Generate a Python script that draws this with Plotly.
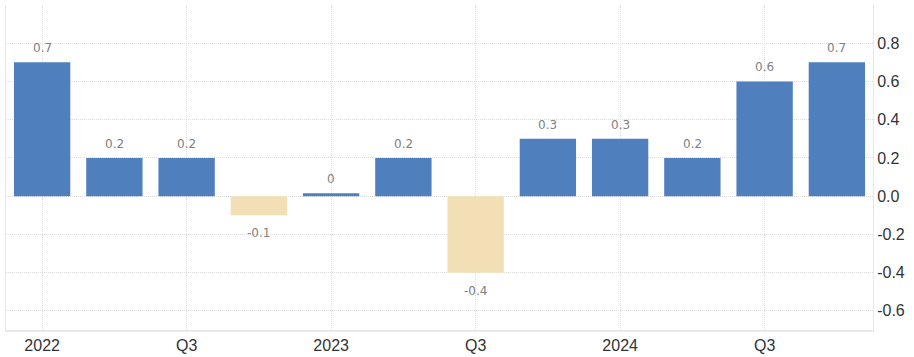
import plotly.graph_objects as go

categories = ["Q1 2022", "Q2 2022", "Q3 2022", "Q4 2022",
              "Q1 2023", "Q2 2023", "Q3 2023", "Q4 2023",
              "Q1 2024", "Q2 2024", "Q3 2024", "Q4 2024"]
values = [0.7, 0.2, 0.2, -0.1, 0.015, 0.2, -0.4, 0.3, 0.3, 0.2, 0.6, 0.7]
value_labels = ["0.7", "0.2", "0.2", "-0.1", "0", "0.2", "-0.4", "0.3", "0.3", "0.2", "0.6", "0.7"]
x_tick_vals = ["Q1 2022", "Q3 2022", "Q1 2023", "Q3 2023", "Q1 2024", "Q3 2024"]
x_tick_text = ["2022", "Q3", "2023", "Q3", "2024", "Q3"]
y_tick_vals = [-0.6, -0.4, -0.2, 0.0, 0.2, 0.4, 0.6, 0.8, 1.0]
y_tick_text = ["-0.6", "-0.4", "-0.2", "0.0", "0.2", "0.4", "0.6", "0.8", ""]

BLUE = "#4f7fbd"
TAN = "#f3dfb5"
colors = [BLUE if v >= 0 else TAN for v in values]

fig = go.Figure()
fig.add_trace(go.Bar(
    x=categories, y=values,
    marker=dict(color=colors, line=dict(width=0)),
    hoverinfo="skip",
))

for c, v, t in zip(categories, values, value_labels):
    fig.add_annotation(
        x=c, y=v, text=t, showarrow=False,
        yshift=14 if v >= 0 else -18,
        font=dict(family="DejaVu Sans", size=12, color="#808080"),
    )

fig.update_layout(
    width=914, height=357,
    margin=dict(l=6, r=41, t=5, b=27),
    plot_bgcolor="white", paper_bgcolor="white",
    bargap=0.22,
    showlegend=False,
    hovermode=False,
    xaxis=dict(
        type="category",
        range=[-0.5, 11.5],
        automargin=False,
        tickvals=x_tick_vals, ticktext=x_tick_text,
        showgrid=True, gridcolor="#dedede", griddash="1px,1px", gridwidth=1,
        showline=True, linecolor="#e8e8e8", linewidth=2, mirror=False,
        ticks="", tickfont=dict(family="Liberation Sans, Arial", size=16, color="#333333"),
        fixedrange=True,
    ),
    yaxis=dict(
        side="right",
        range=[-0.7, 1.0],
        automargin=False,
        tickvals=y_tick_vals, ticktext=y_tick_text,
        showgrid=True, gridcolor="#dedede", griddash="1px,1px", gridwidth=1,
        zeroline=False,
        showline=True, linecolor="#e8e8e8", linewidth=1, mirror=True,
        ticks="", tickfont=dict(family="Liberation Sans, Arial", size=16, color="#333333"),
        fixedrange=True,
    ),
)

fig.write_html("out.html", config={"displayModeBar": False, "staticPlot": True})

with open("out.html", "r", encoding="utf-8") as f:
    html = f.read()
html = html.replace("<body>", '<body style="margin:0;padding:0;overflow:hidden">', 1)
with open("out.html", "w", encoding="utf-8") as f:
    f.write(html)
